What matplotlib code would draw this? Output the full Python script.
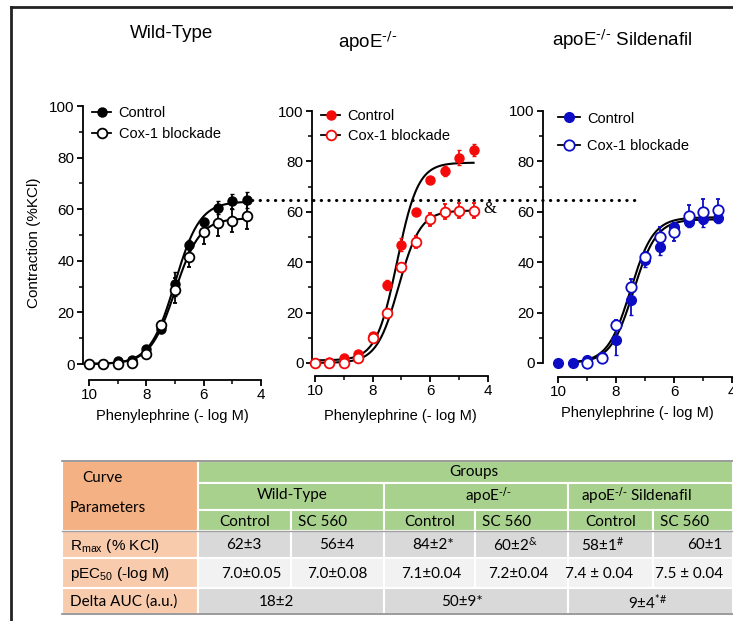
import numpy as np
import matplotlib
matplotlib.use("Agg")
import matplotlib.pyplot as plt
from matplotlib.lines import Line2D
from matplotlib.patches import Rectangle
from matplotlib.transforms import blended_transform_factory

plt.rcParams['font.family'] = ['Liberation Sans', 'DejaVu Sans']
plt.rcParams['mathtext.default'] = 'regular'

W, H = 733, 621

# -log M phenylephrine
log_dose = [10, 9.5, 9, 8.5, 8, 7.5, 7, 6.5, 6, 5.5, 5, 4.5]

# Wild-Type
wt_ctrl = [0, 0, 1, 1.5, 6, 13.5, 31, 46, 55, 60.5, 63, 63.5]
wt_ctrl_err = [0, 0, 0.5, 0.5, 1, 1.5, 4.5, 2, 1.5, 2.5, 3, 3]
wt_cox = [0, 0, 0, 0.5, 4, 15, 28.5, 41.5, 51, 54.5, 55.5, 57.5]
wt_cox_err = [0, 0, 0, 0.5, 1, 1.5, 5, 4, 4.5, 5, 4.5, 5]

# apoE-/-
apo_ctrl = [0, 0.5, 2, 3.5, 10.5, 31, 47, 60, 72.5, 76, 81.5, 84.5]
apo_ctrl_err = [0, 0, 0.5, 0.5, 1, 2, 2.5, 1, 1, 2, 3, 2.5]
apo_cox = [0, 0, 0, 2, 10, 20, 38, 48, 57, 60, 60.5, 60.5]
apo_cox_err = [0, 0, 0, 0.5, 1, 1, 1, 2.5, 2.5, 3, 3, 3]

# apoE-/- Sildenafil
sil_ctrl = [0, 0, 1, 2.5, 9, 25, 41, 46, 54, 56, 57, 57.5]
sil_ctrl_err = [0, 0, 1, 2, 6, 6, 3, 3, 2, 2, 3, 2]
sil_dose_cox = [9, 8.5, 8, 7.5, 7, 6.5, 6, 5.5, 5, 4.5]
sil_cox = [0, 2, 15, 30, 42, 50, 52, 58.5, 60, 60.5]
sil_cox_err = [0, 0.5, 2, 3.5, 2, 4, 3.5, 4, 5, 4.5]

# fitted curves: (bottom, top, pEC50, hill)
fits = {
    'wt': [(0, 63, 7.0, 1.0), (0, 56.5, 7.0, 1.0)],
    'apo': [(1, 79.5, 7.15, 1.2), (0, 60.5, 7.1, 1.15)],
    'sil': [(0, 57, 7.4, 1.1), (0, 57.8, 7.5, 1.1)],
}

fig = plt.figure(figsize=(W / 100, H / 100), dpi=100)

ov = fig.add_axes([0, 0, 1, 1], zorder=-1)
ov.set_xlim(0, W)
ov.set_ylim(H, 0)
ov.axis('off')


def px_axes(left, top, right, bottom):
    return fig.add_axes([left / W, 1 - bottom / H, (right - left) / W, (bottom - top) / H])


def hill(x, b, t, p, h):
    return b + (t - b) / (1 + 10 ** ((x - p) * h))


def panel(ax, color, xl, yl, ctrl, ctrl_err, cox, cox_err, cox_dose, fp, curve_start, ms=6.5):
    ax.set_xlim(xl, 4)
    ax.set_ylim(yl, 100)
    for s in ['top', 'right']:
        ax.spines[s].set_visible(False)
    ax.spines['left'].set_bounds(0, 100)
    ax.spines['bottom'].set_bounds(10, 4)
    ax.spines['left'].set_linewidth(1.3)
    ax.spines['bottom'].set_linewidth(1.3)
    ax.set_yticks([0, 20, 40, 60, 80, 100])
    ax.set_yticks([10, 30, 50, 70, 90], minor=True)
    ax.set_xticks([10, 8, 6, 4])
    ax.set_xticks([9, 7, 5], minor=True)
    ax.tick_params(labelsize=11, width=1.3, length=4, pad=2)
    ax.tick_params(which='minor', width=1.1, length=3)
    ax.patch.set_alpha(0)

    xs = np.linspace(curve_start, 4.5, 200)
    for b, t, p, h in fp:
        ax.plot(xs, hill(xs, b, t, p, h), color='black', lw=1.5, zorder=2)

    ax.errorbar(log_dose, ctrl, yerr=ctrl_err, fmt='o', color=color, ms=ms,
                elinewidth=1.3, capsize=1.5, zorder=3, clip_on=False)
    ax.errorbar(cox_dose, cox, yerr=cox_err, fmt='o', color=color, mfc='white',
                mec=color, mew=1.3, ms=ms + 0.5, elinewidth=1.3, capsize=1.5,
                zorder=4, clip_on=False)

    lc = 'black'
    h1 = Line2D([], [], color=lc, lw=1.3, marker='o', ms=ms, mfc=color, mec=color)
    h2 = Line2D([], [], color=lc, lw=1.3, marker='o', ms=ms + 0.5, mfc='white',
                mec=color, mew=1.3)
    return h1, h2


ax1 = px_axes(83, 106, 261, 380)
h = panel(ax1, 'black', 10.21, -6.2, wt_ctrl, wt_ctrl_err, wt_cox, wt_cox_err,
          log_dose, fits['wt'], 10)
ax1.legend(h, ['Control', 'Cox-1 blockade'], loc='upper left', frameon=False,
           fontsize=10.5, handlelength=1.3, handletextpad=0.5, borderaxespad=0,
           labelspacing=0.45, bbox_to_anchor=(0.02, 1.02))
ax1.set_ylabel('Contraction (%KCl)', fontsize=11, labelpad=6)
ax1.set_xlabel('Phenylephrine (- log M)', fontsize=10.5, labelpad=5)

red = '#f50a0a'
ax2 = px_axes(312, 111, 488, 376)
h = panel(ax2, red, 10.1, -5.2, apo_ctrl, apo_ctrl_err, apo_cox, apo_cox_err,
          log_dose, fits['apo'], 10)
ax2.legend(h, ['Control', 'Cox-1 blockade'], loc='upper left', frameon=False,
           fontsize=10.5, handlelength=1.3, handletextpad=0.5, borderaxespad=0,
           labelspacing=0.45, bbox_to_anchor=(0.02, 1.03))
ax2.set_xlabel('Phenylephrine (- log M)', fontsize=10.5, labelpad=8)
ax2.text(3.92, 61, '&', fontsize=12, family='Liberation Serif', ha='center',
         va='center')

blue = '#0c0cc4'
ax3 = px_axes(543, 111, 732, 377)
h = panel(ax3, blue, 10.52, -5.6, sil_ctrl, sil_ctrl_err, sil_cox, sil_cox_err,
          sil_dose_cox, fits['sil'], 9.5, ms=7)
ax3.legend(h, ['Control', 'Cox-1 blockade'], loc='upper left', frameon=False,
           fontsize=10.5, handlelength=1.5, handletextpad=0.5, borderaxespad=0,
           labelspacing=0.9, bbox_to_anchor=(0.05, 1.02))
ax3.set_xlabel('Phenylephrine (- log M)', fontsize=10.5, labelpad=5)

# dotted reference line at wild-type max
ref_level = 64.5
tr = blended_transform_factory(ov.transData, ax2.transData)
ov.add_line(Line2D([252, 641], [ref_level, ref_level], transform=tr, color='black',
                   lw=2.2, linestyle=(0, (0.1, 2.4)), dash_capstyle='round',
                   clip_on=False))

# titles
sup = '$^{\\text{-/-}}$'
ov.text(172, 33, 'Wild-Type', fontsize=13.5, ha='center', va='center')
ov.text(368, 42, 'apoE' + sup, fontsize=13.5, ha='center', va='center')
ov.text(622, 40, 'apoE' + sup + ' Sildenafil', fontsize=13.5, ha='center', va='center')

# outer frame
ov.add_line(Line2D([11, W], [7, 7], color='#222222', lw=2))
ov.add_line(Line2D([11, 11], [7, H], color='#222222', lw=2))

# table
tfont = ['Lato', 'DejaVu Sans']
col_x = [62, 198, 291, 384, 475, 568, 653, 733]
row_y = [461, 483, 510, 531, 558, 588, 614]
orange = '#f4b183'
orange_l = '#f8cbad'
green = '#a9d18e'
grey = '#d9d9d9'
grey_l = '#f2f2f2'


def cell(x0, x1, y0, y1, c):
    ov.add_patch(Rectangle((x0, y0), x1 - x0, y1 - y0, facecolor=c,
                           edgecolor='white', lw=1.5))


cell(col_x[0], col_x[1], row_y[0], row_y[3], orange)
cell(col_x[1], col_x[7], row_y[0], row_y[1], green)
for i in (1, 3, 5):
    cell(col_x[i], col_x[i + 2], row_y[1], row_y[2], green)
for i in range(1, 7):
    cell(col_x[i], col_x[i + 1], row_y[2], row_y[3], green)
row_colors = [grey, grey_l, grey]
for r in range(3):
    cell(col_x[0], col_x[1], row_y[3 + r], row_y[4 + r], orange_l)
    if r < 2:
        for i in range(1, 7):
            cell(col_x[i], col_x[i + 1], row_y[3 + r], row_y[4 + r], row_colors[r])
    else:
        for i in (1, 3, 5):
            cell(col_x[i], col_x[i + 2], row_y[5], row_y[6], row_colors[r])
ov.add_line(Line2D([62, W], [row_y[0], row_y[0]], color='#8a8a8a', lw=1.2))
ov.add_line(Line2D([62, W], [row_y[3], row_y[3]], color='#a0a0a0', lw=1))
ov.add_line(Line2D([62, W], [row_y[6], row_y[6]], color='#8a8a8a', lw=1.2))

group_names = ['Wild-Type', 'apoE' + sup, 'apoE' + sup + ' Sildenafil']
group_x = [292, 488, 637]
rmax = ['62±3', '56±4', '84±2*', '60±2$^{&}$', '58±1$^{\\#}$', '60±1']
rmax_x = [244, 337, 433, 516, 603, 705]
pec50 = ['7.0±0.05', '7.0±0.08', '7.1±0.04', '7.2±0.04', '7.4 ± 0.04', '7.5 ± 0.04']
pec50_x = [251, 337, 431, 518, 599, 689]
auc = ['18±2', '50±9*', '9±4$^{*\\#}$']
auc_x = [276, 462, 648]

fs = 11
ov.text(102, 478, 'Curve', fontsize=fs, family=tfont, ha='center', va='center')
ov.text(70, 508, 'Parameters', fontsize=fs, family=tfont, ha='left', va='center')
ov.text(474, 472, 'Groups', fontsize=fs, family=tfont, ha='center', va='center')
for name, x in zip(group_names, group_x):
    ov.text(x, 495, name, fontsize=fs, family=tfont, ha='center', va='center')
for i in (1, 3, 5):
    ov.text((col_x[i] + col_x[i + 1]) / 2, 522, 'Control', fontsize=fs,
            family=tfont, ha='center', va='center')
    ov.text(col_x[i + 1] + 7, 522, 'SC 560', fontsize=fs, family=tfont,
            ha='left', va='center')
for v, x in zip(rmax, rmax_x):
    ov.text(x, 545, v, fontsize=fs, family=tfont, ha='center', va='center')
for v, x in zip(pec50, pec50_x):
    ov.text(x, 574, v, fontsize=fs, family=tfont, ha='center', va='center')
for v, x in zip(auc, auc_x):
    ov.text(x, 602, v, fontsize=fs, family=tfont, ha='center', va='center')

ov.text(70, 546, 'R$_{max}$ (% KCl)', fontsize=11, ha='left', va='center')
ov.text(70, 574, 'pEC$_{50}$ (-log M)', fontsize=11, ha='left', va='center')
ov.text(70, 602, 'Delta AUC (a.u.)', fontsize=fs, family=tfont, ha='left', va='center')

fig.savefig('out.png', dpi=100)
